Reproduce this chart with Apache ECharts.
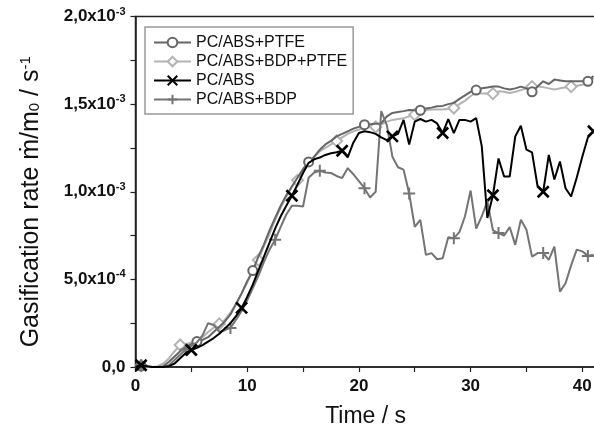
<!DOCTYPE html>
<html>
<head>
<meta charset="utf-8">
<script src="https://cdn.jsdelivr.net/npm/echarts@6/dist/echarts.min.js"></script>
<style>html,body{margin:0;padding:0;background:#fff;}#c{width:594px;height:429px;}</style>
</head>
<body>
<div id="c"></div>
<script>
// Time axis (s)
const times = [0,0.5,1,1.5,2,2.5,3,3.5,4,4.5,5,5.5,6,6.5,7,7.5,8,8.5,9,9.5,10,10.5,11,11.5,12,12.5,13,13.5,14,14.5,15,15.5,16,16.5,17,17.5,18,18.5,19,19.5,20,20.5,21,21.5,22,22.5,23,23.5,24,24.5,25,25.5,26,26.5,27,27.5,28,28.5,29,29.5,30,30.5,31,31.5,32,32.5,33,33.5,34,34.5,35,35.5,36,36.5,37,37.5,38,38.5,39,39.5,40,40.5,41];

// Gasification rate, in units of 1e-3 s^-1
const pcAbsPtfe = [0,0.005,0.003,0,0,0.005,0.03,0.06,0.09,0.115,0.13,0.145,0.155,0.17,0.2,0.23,0.26,0.3,0.36,0.42,0.49,0.55,0.63,0.7,0.78,0.85,0.92,0.98,1.03,1.08,1.13,1.17,1.2,1.24,1.27,1.29,1.316,1.33,1.345,1.36,1.37,1.383,1.385,1.388,1.39,1.43,1.45,1.455,1.46,1.467,1.465,1.465,1.475,1.48,1.488,1.49,1.5,1.507,1.53,1.55,1.57,1.58,1.59,1.595,1.6,1.6,1.59,1.583,1.59,1.6,1.59,1.57,1.6,1.63,1.615,1.64,1.635,1.63,1.63,1.63,1.63,1.63,1.66];

const pcAbsBdpPtfe = [0.003,0.008,0.002,0,0.005,0.02,0.05,0.09,0.126,0.13,0.14,0.15,0.17,0.2,0.225,0.246,0.27,0.31,0.36,0.42,0.48,0.55,0.61,0.69,0.76,0.84,0.91,0.97,1.03,1.065,1.12,1.17,1.2,1.23,1.25,1.27,1.29,1.31,1.33,1.345,1.355,1.364,1.37,1.37,1.385,1.4,1.41,1.415,1.42,1.43,1.44,1.45,1.465,1.469,1.469,1.469,1.472,1.478,1.5,1.52,1.545,1.567,1.56,1.56,1.56,1.573,1.57,1.564,1.57,1.58,1.59,1.6,1.6,1.597,1.59,1.583,1.59,1.595,1.6,1.605,1.611,1.62,1.65];

const pcAbs = [0,0.01,0.005,0,0,0,0.005,0.02,0.05,0.08,0.097,0.11,0.125,0.145,0.165,0.19,0.22,0.25,0.29,0.337,0.4,0.47,0.55,0.63,0.71,0.79,0.86,0.92,0.977,1.04,1.107,1.165,1.185,1.195,1.21,1.22,1.225,1.234,1.196,1.28,1.335,1.345,1.34,1.33,1.31,1.295,1.316,1.33,1.41,1.27,1.4,1.415,1.4,1.41,1.39,1.335,1.415,1.335,1.41,1.41,1.4,1.42,1.26,0.85,0.98,1.19,1.087,1.087,1.316,1.377,1.24,1.225,1.03,1.0,1.21,1.07,1.173,1.02,0.973,1.08,1.2,1.31,1.345];

const pcAbsBdp = [0.005,0.01,0,0,0,0,0.01,0.04,0.07,0.1,0.12,0.14,0.18,0.25,0.24,0.2,0.21,0.223,0.27,0.32,0.38,0.45,0.52,0.6,0.67,0.726,0.8,0.87,0.92,0.92,0.916,1.08,1.11,1.12,1.11,1.107,1.09,1.078,1.135,1.1,1.06,1.02,0.967,1.0,1.46,1.38,1.2,1.14,1.126,0.99,0.8,0.84,0.64,0.65,0.615,0.62,0.74,0.735,0.77,0.86,1.007,0.79,0.86,0.945,0.78,0.764,0.75,0.798,0.697,0.84,0.783,0.63,0.65,0.65,0.611,0.687,0.43,0.478,0.58,0.67,0.66,0.634,0.64];

const seriesNames = ['PC/ABS+PTFE', 'PC/ABS+BDP+PTFE', 'PC/ABS', 'PC/ABS+BDP'];

// Axis ticks
const xTickLabels = ['0', '10', '20', '30', '40'];
const yTickValues = [0, 0.5, 1.0, 1.5, 2.0];
const yTickLabels = ['0,0', '5,0x10{sup|-4}', '1,0x10{sup|-3}', '1,5x10{sup|-3}', '2,0x10{sup|-3}'];

function build(vals, every) {
  return times.map(function (t, i) {
    if (i >= 1 && (i - 1) % every === 0) return [t, vals[i]];
    return { value: [t, vals[i]], symbol: 'none' };
  });
}

const FONT = 'Liberation Sans, Arial, sans-serif';
const chart = echarts.init(document.getElementById('c'), null, { renderer: 'canvas' });

chart.setOption({
  animation: false,
  backgroundColor: '#fff',
  grid: {
    left: 135.5, top: 16.5, width: 460.2, height: 350.5,
    containLabel: false, outerBoundsMode: 'none',
    show: true, borderColor: '#222', borderWidth: 1.5, backgroundColor: 'transparent'
  },
  legend: {
    orient: 'vertical', left: 145, top: 27,
    padding: [7, 6, 6, 8],
    itemWidth: 37, itemHeight: 12, itemGap: 2,
    borderColor: '#999', borderWidth: 1.5,
    textStyle: { fontSize: 16, fontFamily: FONT, color: '#111', lineHeight: 17 },
    data: seriesNames
  },
  xAxis: {
    type: 'value', min: 0, max: 41.2, interval: 5,
    name: 'Time / s', nameLocation: 'middle', nameGap: 38,
    nameTextStyle: { fontSize: 23, fontFamily: FONT, color: '#111' },
    axisLine: { show: true, lineStyle: { color: '#222', width: 1.5 } },
    axisTick: { show: true, inside: false, length: 5, lineStyle: { color: '#222', width: 1.2 } },
    splitLine: { show: false },
    axisLabel: {
      margin: 11, fontSize: 17, fontWeight: 'bold', fontFamily: FONT, color: '#111',
      formatter: function (v) { const s = String(Math.round(v)); return (v % 10 === 0 && xTickLabels.indexOf(s) >= 0) ? s : ''; }
    }
  },
  yAxis: {
    type: 'value', min: 0, max: 2, interval: 0.25,
    name: 'Gasification rate ṁ/m{sub|0} / s{sup|-1}', nameLocation: 'middle', nameGap: 92,
    nameTextStyle: {
      fontSize: 25, fontFamily: FONT, color: '#111', padding: [0, 20, 0, 0],
      rich: {
        sub: { fontSize: 15, fontFamily: FONT, color: '#111', padding: [8, 0, 0, 0] },
        sup: { fontSize: 15, fontFamily: FONT, color: '#111', padding: [0, 0, 10, 0] }
      }
    },
    axisLine: { show: true, lineStyle: { color: '#222', width: 1.5 } },
    axisTick: { show: true, inside: false, length: 5, lineStyle: { color: '#222', width: 1.2 } },
    splitLine: { show: false },
    axisLabel: {
      margin: 10, fontSize: 17, fontWeight: 'bold', fontFamily: FONT, color: '#111',
      rich: { sup: { fontSize: 11, fontWeight: 'bold', fontFamily: FONT, color: '#111', padding: [0, 0, 10, 0] } },
      formatter: function (v) {
        for (let k = 0; k < yTickValues.length; k++) { if (Math.abs(v - yTickValues[k]) < 1e-9) return yTickLabels[k]; }
        return '';
      }
    }
  },
  series: [
    {
      name: seriesNames[1], type: 'line', data: build(pcAbsBdpPtfe, 7), color: '#b3b3b3',
      symbol: 'emptyDiamond', symbolSize: 11, showAllSymbol: true,
      lineStyle: { width: 2 }, itemStyle: { borderWidth: 2 }, z: 2
    },
    {
      name: seriesNames[0], type: 'line', data: build(pcAbsPtfe, 10), color: '#666666',
      symbol: 'emptyCircle', symbolSize: 9, showAllSymbol: true,
      lineStyle: { width: 2 }, itemStyle: { borderWidth: 2 }, z: 3
    },
    {
      name: seriesNames[3], type: 'line', data: build(pcAbsBdp, 8), color: '#747474',
      symbol: 'path://M5,0L5,10M0,5L10,5', symbolSize: 12, showAllSymbol: true,
      lineStyle: { width: 2 }, itemStyle: { color: '#747474', borderColor: '#747474', borderWidth: 2 }, z: 4
    },
    {
      name: seriesNames[2], type: 'line', data: build(pcAbs, 9), color: '#000000',
      symbol: 'path://M0,0L10,10M10,0L0,10', symbolSize: 11, showAllSymbol: true,
      lineStyle: { width: 2 }, itemStyle: { color: '#000', borderColor: '#000', borderWidth: 2.6 }, z: 5
    }
  ]
});
</script>
</body>
</html>
